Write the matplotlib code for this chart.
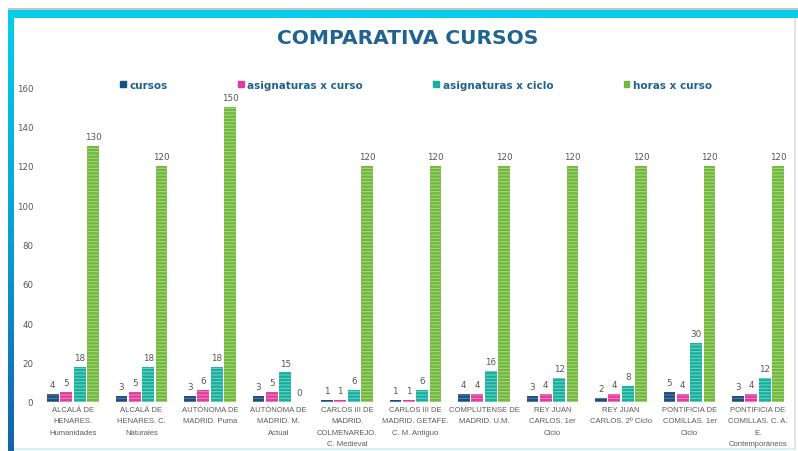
import matplotlib.pyplot as plt
import matplotlib.patches as mpatches
from matplotlib.colors import LinearSegmentedColormap
import numpy as np

plt.rcParams['hatch.linewidth'] = 0.7

categories = [
    'ALCALÁ DE\nHENARES.\nHumanidades',
    'ALCALÁ DE\nHENARES. C.\nNaturales',
    'AUTÓNOMA DE\nMADRID. Puma',
    'AUTÓNOMA DE\nMADRID. M.\nActual',
    'CARLOS III DE\nMADRID.\nCOLMENAREJO.\nC. Medieval',
    'CARLOS III DE\nMADRID. GETAFE.\nC. M. Antiguo',
    'COMPLUTENSE DE\nMADRID. U.M.',
    'REY JUAN\nCARLOS. 1er\nCiclo',
    'REY JUAN\nCARLOS. 2º Ciclo',
    'PONTIFICIA DE\nCOMILLAS. 1er\nCiclo',
    'PONTIFICIA DE\nCOMILLAS. C. A.\nE.\nContemporáneos',
]
cursos = [4, 3, 3, 3, 1, 1, 4, 3, 2, 5, 3]
asig_curso = [5, 5, 6, 5, 1, 1, 4, 4, 4, 4, 4]
asig_ciclo = [18, 18, 18, 15, 6, 6, 16, 12, 8, 30, 12]
horas_curso = [130, 120, 150, 0, 120, 120, 120, 120, 120, 120, 120]

series = [
    ('cursos', cursos, '#1f4e80', '#5b82ad'),
    ('asignaturas x curso', asig_curso, '#e03c9c', '#f28cc6'),
    ('asignaturas x ciclo', asig_ciclo, '#1aae9c', '#6fd6c8'),
    ('horas x curso', horas_curso, '#72b83e', '#a8d884'),
]

fig = plt.figure(figsize=(7.98, 4.52), dpi=100)
W, H = 798, 452

# frame decoration
fig.add_artist(mpatches.Rectangle((8 / W, 1 - 11 / H), 1 - 8 / W, 2 / H,
                                  transform=fig.transFigure, color='#c4c4c4', lw=0))
fig.add_artist(mpatches.Rectangle((8 / W, 1 - 18.5 / H), 1 - 8 / W, 8 / H,
                                  transform=fig.transFigure, color='#05cdec', lw=0))
fig.add_artist(mpatches.Rectangle((14 / W, 1 / H), 1 - 16 / W, 2 / H,
                                  transform=fig.transFigure, color='#d2f1fa', lw=0))
fig.add_artist(mpatches.Rectangle((794 / W, 1 / H), 1.5 / W, 1 - 20 / H,
                                  transform=fig.transFigure, color='#e3e3e3', lw=0))
band = fig.add_axes([8 / W, 0, 5.5 / W, 1 - 18.5 / H])
grad = np.linspace(0, 1, 256).reshape(-1, 1)
cmap = LinearSegmentedColormap.from_list('band', ['#05cdec', '#0a9fd6', '#1463a6'])
band.imshow(grad, aspect='auto', cmap=cmap)
band.axis('off')

ax = fig.add_axes([38.75 / W, (H - 403) / H, 753.5 / W, 315 / H])
x = np.arange(len(categories))
step = 0.197
width = 0.168
for i, (name, vals, col, light) in enumerate(series):
    pos = x + (i - 1.5) * step
    ax.bar(pos, vals, width=width, color=col, edgecolor=light,
           linewidth=0, hatch='-----', label=name)
    for p, v in zip(pos, vals):
        ax.text(p, v + 2.5, str(v), ha='center', va='bottom',
                fontsize=6.3, color='#555555')

ax.set_xlim(-0.5, len(categories) - 0.5)
ax.set_ylim(0, 160)
ax.set_yticks(range(0, 161, 20))
ax.set_xticks(x)
ax.tick_params(axis='both', length=0)
ax.tick_params(axis='x', pad=3)
ax.tick_params(axis='y', pad=4, labelsize=6.2, labelcolor='#555555')
ax.set_xticklabels(categories, fontsize=5.5, color='#5a5a5a',
                   family='Liberation Sans', linespacing=1.85)
for s in ax.spines.values():
    s.set_visible(False)

fig.text(408 / W, 1 - 38 / H, 'COMPARATIVA CURSOS', ha='center', va='center',
         fontsize=14.5, fontweight='bold', color='#1f6391')

handles = [mpatches.Patch(color=c) for _, _, c, _ in series]
fig.legend(handles, [s[0] for s in series], loc='center left',
           bbox_to_anchor=(120 / W, 1 - 86 / H), ncol=4, frameon=False,
           handlelength=0.55, handleheight=0.55, handletextpad=0.35,
           columnspacing=6.75, borderaxespad=0, borderpad=0,
           prop={'weight': 'bold', 'size': 7.5}, labelcolor='#1f6391')

fig.savefig('out.png', dpi=100)
